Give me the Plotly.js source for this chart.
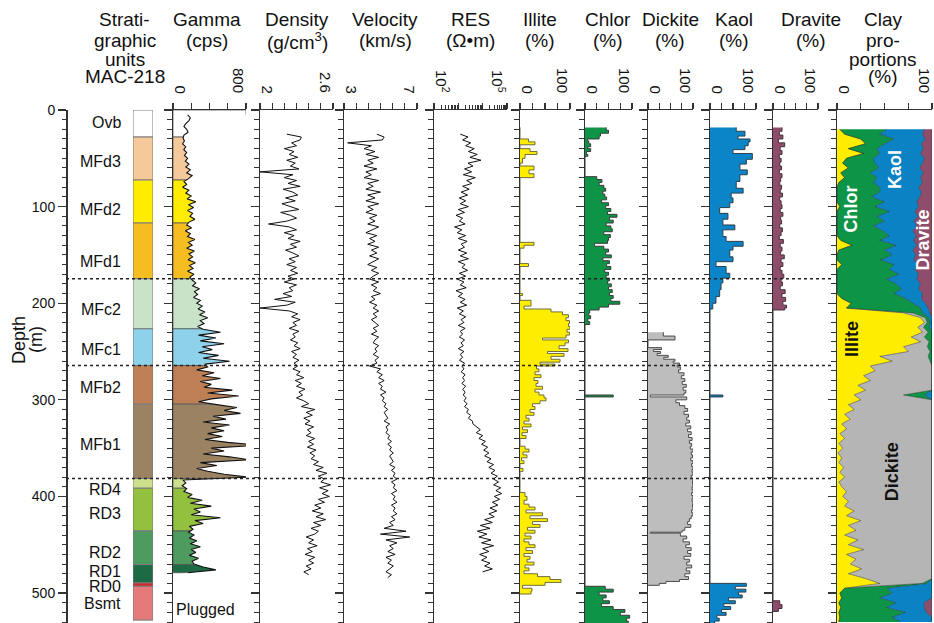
<!DOCTYPE html>
<html><head><meta charset="utf-8">
<script src="https://cdn.plot.ly/plotly-3.0.1.min.js"></script>
<style>html,body{margin:0;padding:0;background:#fff}#chart{width:934px;height:623px}</style>
</head><body><div id="chart"></div>
<script>
// ---------------- DATA ----------------
// Stratigraphic units (MAC-218)
const unitNames  = ['Ovb','MFd3','MFd2','MFd1','MFc2','MFc1','MFb2','MFb1','RD4','RD3','RD2','RD1','RD0','Bsmt'];
const unitTop    = [0,28,72.5,117,174.7,226.5,264.5,304.5,381.5,391.5,435.7,470.6,489.5,493];
const unitBottom = [28,72.5,117,174.7,226.5,264.5,304.5,381.5,391.5,435.7,470.6,489.5,493,528];
const unitColors = ['#FFFFFF','#F6C99B','#FFEC00','#F4BE22','#C9E3C9','#8ED1EA','#BE7F55','#9B8262','#CEE08D','#93C13F','#4D9B5E','#1D6B45','#D6262E','#E47A7A'];
const unitLabelDepth = [13,53,103,157,207,248,287,346,393,418,458,478,493.6,511];
const boundaryDepths = [174.7,264.5,381.5];

// Gamma (cps), depth = gammaTop + gammaStep*i
const gammaTop = 5, gammaStep = 3;
const gamma = [
 160,190,175,140,120,150,165,120,
 110,125,105,140,118,150,125,160,135,175,140,190,150,210,170,
 120,150,105,175,140,200,155,250,170,225,160,215,185,240,175,
 150,205,135,190,160,240,170,210,150,235,175,215,165,245,180,220,160,230,185,
 210,250,215,290,235,270,225,300,260,320,275,350,290,380,300,340,270,
 330,520,280,470,300,560,320,430,280,500,330,620,350,
 380,260,450,320,520,300,420,340,650,380,720,420,280,
 480,700,560,740,440,580,330,620,420,560,380,540,350,600,950,420,560,330,620,840,300,480,260,380,560,820,
 110,140,100,
 150,120,210,160,320,190,420,230,300,200,520,240,330,180,220,
 170,230,180,260,190,300,200,250,180,280,210,
 230,330,470,160];

// Density (g/cm3)
const densTop = 25, densStep = 3;
const density = [
 2.22,2.34,2.33,2.26,2.30,2.20,2.28,2.24,2.31,2.22,
 2.29,2.25,2.32,2.00,2.27,2.20,2.30,2.23,2.33,2.19,
 2.27,2.31,2.21,2.29,2.18,2.26,2.32,2.17,2.25,2.30,
 2.22,2.07,2.24,2.30,2.20,2.28,2.23,2.33,2.25,2.30,
 2.21,2.27,2.32,2.24,2.29,2.22,2.30,2.25,2.31,2.23,
 2.28,2.20,2.30,2.24,2.27,2.19,2.26,2.12,2.29,2.22,
 2.00,2.24,2.31,2.26,2.33,2.27,2.30,2.24,2.32,2.27,
 2.29,2.25,2.31,2.28,2.33,2.26,2.30,2.27,2.32,2.28,
 2.31,2.27,2.33,2.30,2.36,2.29,2.34,2.30,2.37,2.32,
 2.35,2.30,2.36,2.40,2.34,2.45,2.38,2.43,2.36,2.41,
 2.37,2.44,2.39,2.42,2.38,2.45,2.40,2.44,2.39,2.46,
 2.41,2.45,2.42,2.48,2.44,2.52,2.46,2.55,2.48,2.53,
 2.50,2.58,2.49,2.56,2.51,2.57,2.48,2.53,2.45,2.50,
 2.43,2.52,2.46,2.54,2.44,2.50,2.42,2.48,2.45,2.38,
 2.44,2.40,2.47,2.39,2.43,2.37,2.45,2.40,2.44,2.38,
 2.42,2.36,2.40];

// Velocity (km/s)
const velTop = 25, velStep = 3;
const velocity = [
 4.8,5.2,5.1,3.2,4.5,4.1,4.7,4.2,4.9,4.3,
 4.6,4.1,4.8,4.2,4.5,4.1,4.9,4.3,4.6,4.2,
 5.0,4.3,4.7,4.2,4.9,4.3,4.6,4.2,4.8,4.4,
 4.7,4.3,4.9,4.5,4.2,4.8,4.4,4.7,4.3,4.9,
 4.5,4.8,4.4,4.9,4.6,4.3,4.8,4.5,4.9,4.6,
 4.4,4.9,4.5,4.8,4.6,5.0,4.5,4.7,4.4,4.8,
 4.6,4.9,4.6,4.8,4.5,4.7,4.9,4.6,4.8,4.5,
 4.9,4.7,4.6,4.9,4.7,4.8,4.6,4.9,4.7,4.8,
 4.4,5.0,4.8,5.1,4.9,5.2,4.9,5.1,5.0,5.3,
 5.0,5.2,5.1,5.3,5.2,5.4,5.2,5.3,5.4,5.2,
 5.5,5.3,5.4,5.3,5.5,5.4,5.6,5.4,5.6,5.5,
 5.7,5.5,5.6,5.7,5.5,5.8,5.6,5.8,5.7,5.9,
 5.6,5.8,5.7,5.9,5.6,5.8,5.7,5.9,5.6,5.8,
 5.7,5.9,5.6,5.8,5.5,5.7,5.2,6.4,5.0,6.6,
 5.3,5.9,5.5,5.7,5.4,5.8,5.3,5.6,5.4,5.7,
 5.5,5.3,5.6,5.4];

// Resistivity (ohm.m)
const resTop = 25, resStep = 3;
const resistivity = [
 1200,2500,1500,3200,2000,4500,2600,6000,3000,8500,
 2500,4000,1800,3500,1600,5000,2200,3600,1500,2800,
 1300,2400,1100,2000,1200,2600,1000,1800,800,1500,
 1100,1900,700,1400,900,2000,1000,2300,1300,1800,
 1000,2200,1200,2600,1000,1900,1400,2400,1100,2000,
 900,1700,1200,2100,800,1500,1000,1900,1200,2200,
 900,1600,1100,2000,1300,1700,1000,1900,1200,1500,
 1100,1800,1300,1600,1000,1700,1200,1500,1100,1800,
 1400,1700,1300,1900,1500,1800,1400,2000,1500,1900,
 1600,2100,1700,2300,1800,2600,2200,3200,2600,3800,
 4000,6000,8000,5500,10000,7000,13000,9000,16000,11000,
 18000,12000,22000,15000,28000,18000,32000,22000,40000,28000,
 45000,28000,55000,35000,60000,30000,50000,25000,42000,20000,
 38000,18000,30000,12000,25000,8000,20000,6000,15000,7000,
 22000,9000,28000,10000,18000,7500,15000,9000,20000,12000,
 25000,10000];

// XRD mineral percentages (sample depth -> value held down to next sample)
const illiteDepth = [18,30,33,36,40,43,46,50,55,58,62,66,70,137,140,143,159,162,190,192,197,203,206,209,212,215,218,221,224,227,230,233,236,238,241,244,247,250,252,255,258,261,263,265,268,271,274,277,280,283,286,289,292,295,298,301,304,307,310,313,316,319,322,325,328,331,334,337,340,348,351,354,357,360,363,366,371,374,396,400,404,408,411,414,417,420,423,426,429,432,435,438,441,444,447,450,453,456,459,462,465,468,471,474,477,480,483,486,489,492,495,498,501];
const illiteVal = [0,17,30,0,20,34,10,5,0,28,18,28,0,28,8,0,17,0,5,0,22,8,62,85,97,92,99,97,100,94,99,92,45,97,90,78,96,55,88,62,80,40,70,33,38,30,42,28,36,32,45,30,38,48,52,40,25,30,20,28,12,18,8,22,5,15,4,12,0,10,18,6,14,3,8,0,6,0,10,14,8,18,30,12,45,20,55,25,40,15,30,10,22,8,18,30,12,25,8,20,14,28,10,18,8,35,60,82,50,5,24,22,0];

const chlorDepth = [18,21,24,27,30,32,35,38,40,43,46,48,69,72,75,78,81,84,87,90,93,96,99,102,105,108,111,114,117,120,123,126,129,132,135,138,141,144,147,150,153,156,159,162,165,168,171,174,177,180,183,186,189,192,195,198,201,204,207,210,213,216,219,222,295,297,493,496,499,502,505,508,511,514,517,520,523,526,529,531];
const chlorVal = [45,50,33,30,5,8,12,6,12,3,6,0,25,36,30,40,44,38,42,46,35,50,44,55,48,68,52,60,45,55,58,40,54,50,48,20,40,50,44,56,38,52,46,55,42,50,45,52,48,56,50,58,52,60,55,74,50,30,10,8,12,6,10,0,60,0,43,60,30,45,38,52,35,60,85,75,95,88,92,92];

const dickiteDepth = [230,234,238,246,248,250,252,254,256,258,260,262,264,266,269,272,275,278,281,284,287,290,293,295,297,300,303,306,309,312,315,318,321,324,327,330,333,336,339,342,345,348,351,354,357,360,363,366,369,372,375,378,381,384,387,390,393,396,399,402,405,408,411,414,417,420,423,426,429,432,435,437,438,441,444,447,450,453,456,459,462,465,468,471,474,477,480,483,486,488,490,492];
const dickiteVal = [34,60,0,30,12,28,20,45,35,60,56,70,65,72,68,80,74,82,76,85,78,84,80,5,86,62,70,82,88,80,90,86,92,84,95,88,96,90,98,92,97,94,100,96,99,95,100,97,100,98,100,96,100,99,100,98,100,97,100,98,100,99,100,97,100,96,92,88,95,82,76,5,72,86,78,92,84,96,88,95,80,92,86,97,85,93,82,90,70,40,25,0];

const kaolDepth = [18,22,27,30,33,37,41,45,51,56,62,67,74,81,86,91,96,101,107,113,119,124,131,136,141,145,152,157,162,169,174,179,186,193,200,206,295,297,490,493,496,499,502,505,508,511,514,517,520,523,526,529,531];
const kaolVal = [57,76,61,87,83,76,50,92,79,65,81,65,57,72,46,50,43,21,39,28,54,28,35,72,50,43,50,13,35,43,28,24,21,13,6,0,28,0,79,55,78,62,70,40,55,30,45,25,35,15,20,10,10];

const dravDepth = [18,22,26,30,34,38,42,46,50,54,58,62,66,70,74,78,82,86,90,94,98,102,106,110,114,118,122,126,130,134,138,142,146,150,154,158,162,166,170,174,178,182,186,190,194,198,202,205,207,508,512,516,519];
const dravVal = [20,14,22,12,26,16,20,14,18,15,19,14,20,17,15,19,16,21,15,18,20,16,22,17,19,15,21,18,14,23,16,20,17,25,18,22,16,20,24,18,21,16,27,20,28,22,30,26,0,15,20,12,0];

// Clay proportions (%), depth = clayTop + clayStep*i
const clayTop = 20, clayStep = 5;
const clayIllite = [3,8,25,30,12,28,10,6,12,4,8,2,0,0,0,0,3,0,0,0,0,0,0,4,16,2,0,0,5,0,0,0,0,0,0,5,15,10,
 70,88,92,85,90,78,88,70,75,45,58,35,40,28,35,22,30,18,25,12,18,8,14,5,10,3,8,2,6,1,5,2,7,3,8,2,5,10,6,12,8,18,10,25,12,20,8,22,12,28,10,20,14,26,12,30,45,
 8,3,5,2,4,2,3,2];
const clayDickite = [0,0,0,0,0,0,0,0,0,0,0,0,0,0,0,0,0,0,0,0,0,0,0,0,0,0,0,0,0,0,0,0,0,0,0,0,0,0,
 10,5,3,6,6,14,9,25,23,51,40,65,60,72,65,78,70,52,75,88,82,92,86,95,90,97,92,98,94,99,95,98,93,97,92,98,95,90,94,88,92,82,90,75,88,80,92,78,88,72,90,80,86,74,88,70,45,
 0,0,0,0,0,0,0,0];
const clayChlor = [49,37,35,20,30,17,28,34,32,31,34,36,45,45,36,50,37,55,42,50,38,48,55,41,46,48,58,46,55,55,65,52,62,68,60,67,65,78,
 10,4,3,6,4,8,3,5,2,4,2,0,0,0,0,0,0,22,0,0,0,0,0,0,0,0,0,0,0,0,0,0,0,0,0,0,0,0,0,0,0,0,0,0,0,0,0,0,0,0,0,0,0,0,0,0,5,
 45,55,40,60,48,70,55,65];
const clayKaol = [40,45,33,39,49,43,54,50,43,56,46,52,41,44,51,34,46,27,43,31,46,32,28,36,22,30,25,35,25,27,21,32,26,18,30,17,13,8,
 8,3,2,3,0,0,0,0,0,0,0,0,0,0,0,0,0,8,0,0,0,0,0,0,0,0,0,0,0,0,0,0,0,0,0,0,0,0,0,0,0,0,0,0,0,0,0,0,0,0,0,0,0,0,0,0,5,
 47,42,55,30,40,22,42,33];
const clayDravite = [8,10,7,11,9,12,8,10,13,9,12,10,14,11,13,16,14,18,15,19,16,20,17,19,16,20,17,19,15,18,14,16,12,14,10,11,7,4,
 2,0,0,0,0,0,0,0,0,0,0,0,0,0,0,0,0,0,0,0,0,0,0,0,0,0,0,0,0,0,0,0,0,0,0,0,0,0,0,0,0,0,0,0,0,0,0,0,0,0,0,0,0,0,0,0,0,
 0,0,0,8,8,6,0,0];

// Tick marks and end labels
const gammaTicks = [0,200,400,600,800], gammaTickText = ['0','800'];
const densTicks = [2,2.1,2.2,2.3,2.4,2.5,2.6], densTickText = ['2','2.6'];
const velTicks = [3,3.667,4.333,5,5.667,6.333,7], velTickText = ['3','7'];
const resTicks = [100,1000,10000,100000], resTickText = ['10<sup>2</sup>','10<sup>5</sup>'];
const resMinorTicks = [200,300,400,500,600,700,800,900,2000,3000,4000,5000,6000,7000,8000,9000,20000,30000,40000,50000,60000,70000,80000,90000];
const pctTicks = [0,25,50,75,100], pctTickText = ['0','100'];

// ---------------- BUILD ----------------
const W = 934, H = 623, T = 110;
const FONT = 'Liberation Sans, Arial, Helvetica, sans-serif';
const px = v => v / W;
const py = v => (H - v) / (H - T);
const seq = (top, step, n) => Array.from({length:n}, (_, i) => top + step * i);

const gammaDepth = seq(gammaTop, gammaStep, gamma.length);
const densDepth = seq(densTop, densStep, density.length);
const velDepth = seq(velTop, velStep, velocity.length);
const resDepth = seq(resTop, resStep, resistivity.length);
const clayDepth = seq(clayTop, clayStep, clayIllite.length);
const gEnd = gammaDepth[gammaDepth.length - 1];

const data = [];
// strat column
data.push({type:'bar', xaxis:'x', yaxis:'y', orientation:'v',
  x: unitNames.map(() => 0.5), width: unitNames.map(() => 1),
  base: unitTop, y: unitTop.map((t, i) => unitBottom[i] - t),
  marker:{color: unitColors, line:{color:'#7a7a7a', width:1}}, hoverinfo:'skip'});
// gamma background by unit (capped at log end)
const gIdx = unitTop.map((t, i) => i).filter(i => unitTop[i] < gEnd);
data.push({type:'bar', xaxis:'x2', yaxis:'y2', orientation:'v',
  x: gIdx.map(() => 400), width: gIdx.map(() => 800),
  base: gIdx.map(i => unitTop[i]), y: gIdx.map(i => Math.min(unitBottom[i], gEnd) - unitTop[i]),
  marker:{color: gIdx.map(i => unitColors[i]), line:{color:'#555', width:0.8}}, hoverinfo:'skip'});
// white mask right of (and just below) the gamma curve
data.push({type:'scatter', mode:'lines', xaxis:'x2', yaxis:'y2', x:[5000,5000,0], y:[gammaDepth[0], gEnd + 3, gEnd + 3],
  line:{width:0, color:'rgba(0,0,0,0)'}, hoverinfo:'skip'});
data.push({type:'scatter', mode:'lines', xaxis:'x2', yaxis:'y2', x: gamma, y: gammaDepth,
  fill:'tonextx', fillcolor:'#ffffff', line:{color:'#111', width:1.1}, hoverinfo:'skip'});
// density / velocity / res
data.push({type:'scatter', mode:'lines', xaxis:'x3', yaxis:'y3', x: density, y: densDepth, line:{color:'#111', width:1}});
data.push({type:'scatter', mode:'lines', xaxis:'x4', yaxis:'y4', x: velocity, y: velDepth, line:{color:'#111', width:1}});
data.push({type:'scatter', mode:'lines', xaxis:'x5', yaxis:'y5', x: resistivity, y: resDepth, line:{color:'#111', width:1}});
// mineral step tracks
const minerals = [
  {ax:6, d: illiteDepth, v: illiteVal, fill:'#FFED00', line:'#6e6e3a'},
  {ax:7, d: chlorDepth, v: chlorVal, fill:'#0E9447', line:'#3a3a3a'},
  {ax:8, d: dickiteDepth, v: dickiteVal, fill:'#BDBDBD', line:'#4a4a4a'},
  {ax:9, d: kaolDepth, v: kaolVal, fill:'#0B85C7', line:'#2b3f4a'},
  {ax:10, d: dravDepth, v: dravVal, fill:'#8E4D6B', line:'#45303c'},
];
minerals.forEach(m => data.push({type:'scatter', mode:'lines', xaxis:'x'+m.ax, yaxis:'y'+m.ax,
  x: m.v, y: m.d, line:{shape:'vh', color:m.line, width:1}, fill:'tozerox', fillcolor:m.fill, hoverinfo:'skip'}));
// clay proportions stacked
const clayParts = [
  {v: clayIllite, c:'#FFED00'}, {v: clayDickite, c:'#B5B5B5'}, {v: clayChlor, c:'#0E9447'},
  {v: clayKaol, c:'#0B82C4'}, {v: clayDravite, c:'#8E4D6B'}];
clayParts.forEach(p => data.push({type:'scatter', mode:'lines', xaxis:'x11', yaxis:'y11',
  x: p.v, y: clayDepth, stackgroup:'clay', orientation:'h', groupnorm:'percent',
  fillcolor: p.c, line:{color:'rgba(20,20,20,0.7)', width:0.6}, hoverinfo:'skip'}));

// axes
const layout = {
  width: W, height: H, margin:{l:0, r:0, t:T, b:0, pad:0},
  paper_bgcolor:'#fff', plot_bgcolor:'rgba(0,0,0,0)', showlegend:false,
  font:{family: FONT, color:'#111', size:15}, hovermode:false,
};
const yBase = {range:[531,0], autorange:false, ticks:'outside', ticklen:8, tickwidth:1.3, tickcolor:'#333',
  tickmode:'linear', tick0:0, dtick:100,
  minor:{ticks:'outside', ticklen:4.5, tickwidth:1, tickcolor:'#333', tick0:0, dtick:10},
  showline:true, linecolor:'#333', linewidth:1.5, showgrid:false, zeroline:false, fixedrange:true};
layout.yaxis = Object.assign({}, yBase, {anchor:'free', position: px(66), showticklabels:true, tickfont:{size:14, color:'#111'}});
layout.xaxis = {domain:[px(133), px(153)], anchor:'y', range:[0,1], visible:false, fixedrange:true};
const trackDefs = [
  {n:2, x0:173, x1:246, range:[0,800], tv:gammaTicks, tt:gammaTickText},
  {n:3, x0:260, x1:333, range:[2,2.6], tv:densTicks, tt:densTickText},
  {n:4, x0:344, x1:417, range:[3,7], tv:velTicks, tt:velTickText},
  {n:5, x0:434, x1:507, range:[2,5], tv:resTicks, tt:resTickText, log:true},
  {n:6, x0:520, x1:570, range:[0,100], tv:pctTicks, tt:pctTickText},
  {n:7, x0:585, x1:632, range:[0,100], tv:pctTicks, tt:pctTickText},
  {n:8, x0:648, x1:693, range:[0,100], tv:pctTicks, tt:pctTickText},
  {n:9, x0:710, x1:756, range:[0,100], tv:pctTicks, tt:pctTickText},
  {n:10, x0:773, x1:818, range:[0,100], tv:pctTicks, tt:pctTickText},
  {n:11, x0:837, x1:932, range:[0,100], tv:pctTicks, tt:pctTickText},
];
const ann = [];
trackDefs.forEach(t => {
  const xa = {domain:[px(t.x0), px(t.x1)], anchor:'y'+t.n, side:'top', range:t.range, autorange:false,
    tickmode:'array', tickvals:t.tv, showticklabels:false, ticks:'outside', ticklen:6, tickwidth:1.2, tickcolor:'#333',
    showline:true, linecolor:'#333', linewidth:1.5, showgrid:false, zeroline:false, fixedrange:true};
  if (t.log) { xa.type = 'log'; xa.minor = {tickmode:'array', tickvals:resMinorTicks, ticks:'outside', ticklen:4, tickwidth:1, tickcolor:'#333'}; }
  layout['xaxis'+t.n] = xa;
  layout['yaxis'+t.n] = Object.assign({}, yBase, {anchor:'x'+t.n, matches:'y', showticklabels:false});
  // end labels, rotated, sitting inside the track span
  ann.push({text:t.tt[0], xref:'paper', yref:'paper', x:px(t.x0), y:py(95), xanchor:'left', yanchor:'bottom', xshift:-3,
    textangle:90, showarrow:false, font:{size:15, color:'#111'}});
  ann.push({text:t.tt[1], xref:'paper', yref:'paper', x:px(t.x1), y:py(95), xanchor:'right', yanchor:'bottom', xshift:3,
    textangle:90, showarrow:false, font:{size:15, color:'#111'}});
});

// dotted boundary lines
layout.shapes = boundaryDepths.map(d => ({type:'line', xref:'paper', yref:'y', x0:px(66), x1:px(832), y0:d, y1:d,
  line:{color:'#222', width:1.5, dash:'dot'}, layer:'above'}));

// titles
const lineY = [20, 41, 59, 77];
const titles = [
  {x:124.5, lines:['Strati-','graphic','units','MAC-218']},
  {x:207, lines:['Gamma','(cps)']},
  {x:297, lines:['Density','(g/cm<sup>3</sup>)']},
  {x:385, lines:['Velocity','(km/s)']},
  {x:470, lines:['RES','(Ω•m)']},
  {x:540, lines:['Illite','(%)']},
  {x:608, lines:['Chlor','(%)']},
  {x:670, lines:['Dickite','(%)']},
  {x:734, lines:['Kaol','(%)']},
  {x:811, lines:['Dravite','(%)']},
  {x:883, lines:['Clay','pro-','portions','(%)']},
];
titles.forEach(t => t.lines.forEach((s, i) => ann.push({text:s, xref:'paper', yref:'paper', x:px(t.x), y:py(lineY[i]),
  xanchor:'center', yanchor:'middle', showarrow:false, font:{size:19, color:'#111'}})));
ann.push({text:'Depth', xref:'paper', yref:'paper', x:px(19), y:py(340), textangle:-90, showarrow:false, font:{size:18}, xanchor:'center', yanchor:'middle'});
ann.push({text:'(m)', xref:'paper', yref:'paper', x:px(36), y:py(340), textangle:-90, showarrow:false, font:{size:18}, xanchor:'center', yanchor:'middle'});
unitNames.forEach((u, i) => ann.push({text:u, xref:'paper', yref:'y', x:px(123), y:unitLabelDepth[i], xanchor:'right', yanchor:'middle',
  showarrow:false, font:{size:16, color:'#111'}}));
ann.push({text:'Plugged', xref:'paper', yref:'y', x:px(205), y:517, xanchor:'center', yanchor:'middle', showarrow:false, font:{size:16, color:'#111'}});
const clayLabels = [
  {t:'Chlor', x:851, d:103, c:'#fff'}, {t:'Kaol', x:895, d:62, c:'#fff'}, {t:'Dravite', x:923, d:135, c:'#fff'},
  {t:'Illite', x:852, d:237, c:'#111'}, {t:'Dickite', x:892, d:375, c:'#111'}];
clayLabels.forEach(l => ann.push({text:'<b>'+l.t+'</b>', xref:'paper', yref:'y', x:px(l.x), y:l.d, textangle:-90,
  xanchor:'center', yanchor:'middle', showarrow:false, font:{size:18, color:l.c}}));
layout.annotations = ann;

Plotly.newPlot('chart', data, layout, {displayModeBar:false, staticPlot:true});
</script></body></html>
